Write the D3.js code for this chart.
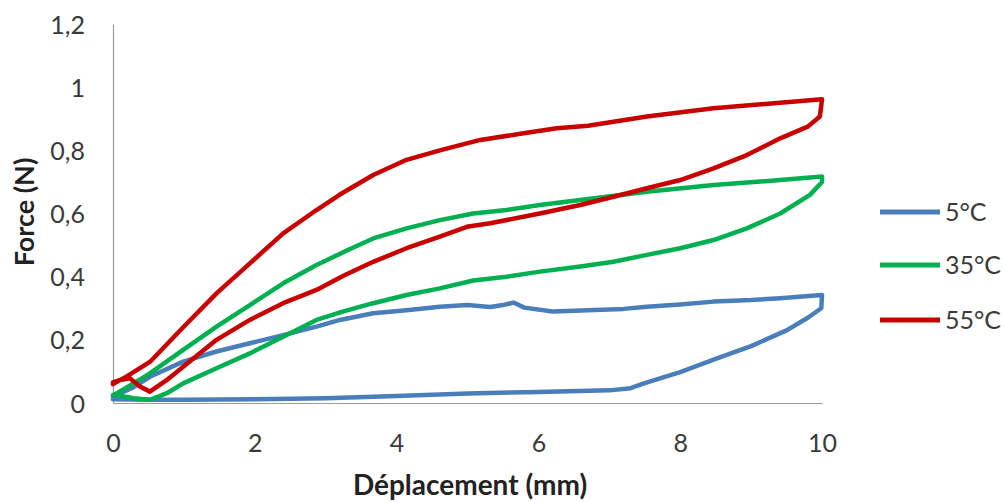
<!DOCTYPE html>
<html><head><meta charset="utf-8">
<script src="https://cdn.jsdelivr.net/npm/d3@7"></script>
<style>body{margin:0;background:#fff;} svg{display:block;font-family:Lato,"Open Sans",sans-serif;}</style>
</head><body><svg id="c" width="1006" height="502"></svg>
<script>
const seriesNames = ["5°C", "35°C", "55°C"];
const seriesColors = ["#4a7ebb", "#00b050", "#c80000"];
const xTicks = [0, 2, 4, 6, 8, 10];
const yTicks = [0, 0.2, 0.4, 0.6, 0.8, 1, 1.2];

// 5°C : loading (0 -> 10) then unloading (10 -> 0)
const disp5 = [0,0.29,0.52,0.99,1.46,1.93,2.4,2.87,3.2,3.67,4.14,4.61,5.0,5.32,5.5,5.65,5.8,6.2,6.7,7.2,7.53,8.0,8.47,9.0,9.41,10,
  9.99,9.8,9.5,9.0,8.5,8.0,7.5,7.3,7.0,6.0,5.0,4.0,3.0,2.0,1.0,0.5,0];
const force5 = [0.02,0.05,0.083,0.131,0.163,0.189,0.215,0.242,0.263,0.284,0.294,0.305,0.31,0.304,0.31,0.318,0.302,0.29,0.294,0.298,0.305,0.312,0.321,0.326,0.332,0.342,
  0.30,0.27,0.23,0.18,0.14,0.098,0.063,0.047,0.04,0.035,0.03,0.022,0.015,0.012,0.01,0.01,0.012];

// 35°C
const disp35 = [0,0.05,0.29,0.52,0.99,1.46,1.93,2.4,2.87,3.32,3.67,4.14,4.61,5.08,5.55,6.02,6.59,7.53,8.47,9.41,10,
  10,9.83,9.41,8.94,8.47,8.0,7.53,7.06,6.59,6.02,5.55,5.08,4.61,4.14,3.67,3.25,2.87,2.4,1.93,1.46,0.99,0.76,0.52,0.29,0.05];
const force35 = [0.025,0.03,0.062,0.094,0.168,0.242,0.31,0.379,0.437,0.485,0.521,0.553,0.579,0.60,0.611,0.627,0.643,0.669,0.69,0.706,0.717,
  0.70,0.659,0.60,0.553,0.516,0.49,0.469,0.447,0.432,0.416,0.40,0.388,0.363,0.342,0.316,0.29,0.263,0.21,0.157,0.11,0.062,0.031,0.01,0.015,0.025];

// 55°C
const disp55 = [0,0.2,0.52,0.99,1.46,1.93,2.4,2.87,3.2,3.67,4.14,4.61,5.18,5.79,6.26,6.7,7.53,8.47,9.41,10,
  9.97,9.8,9.41,8.94,8.47,8.0,7.53,7.06,6.59,6.02,5.32,4.99,4.61,4.14,3.67,3.25,2.87,2.4,1.93,1.46,0.99,0.76,0.52,0.38,0.24,0.1,0];
const force55 = [0.06,0.085,0.13,0.24,0.347,0.442,0.537,0.611,0.66,0.722,0.77,0.80,0.833,0.854,0.87,0.878,0.907,0.933,0.951,0.962,
  0.907,0.875,0.838,0.785,0.743,0.706,0.68,0.653,0.627,0.60,0.569,0.558,0.527,0.49,0.447,0.403,0.358,0.316,0.263,0.20,0.115,0.073,0.036,0.052,0.078,0.073,0.065];

const dispData = [disp5, disp35, disp55];
const forceData = [force5, force35, force55];

const svg = d3.select("#c");
const x = d3.scaleLinear().domain([0, 10]).range([113, 822]);
const y = d3.scaleLinear().domain([0, 1.2]).range([403, 24]);
const fmt = d => String(d).replace(".", ",");

// axes
const gx = svg.append("g").attr("transform", "translate(0,403)")
  .call(d3.axisBottom(x).tickValues(xTicks).tickSize(0).tickFormat(fmt));
const gy = svg.append("g").attr("transform", "translate(113,0)")
  .call(d3.axisLeft(y).tickValues(yTicks).tickSize(0).tickPadding(28).tickFormat(fmt));
[gx, gy].forEach(g => {
  g.select(".domain").attr("stroke", "#9a9a9a").attr("stroke-width", 1.2);
  g.selectAll("text").attr("font-size", 25).attr("fill", "#3a3a3a").attr("font-family", "Lato, 'Open Sans', sans-serif");
});
gy.selectAll("text").attr("dy", "0.36em");
gx.selectAll("text").attr("y", 40).attr("dy", "0.36em");

// lines
const line = d3.line().x(d => x(d[0])).y(d => y(d[1]));
seriesNames.forEach((n, i) => {
  const pts = dispData[i].map((v, j) => [v, forceData[i][j]]);
  svg.append("path").datum(pts).attr("d", line)
    .attr("fill", "none").attr("stroke", seriesColors[i])
    .attr("stroke-width", 4.5).attr("stroke-linejoin", "round").attr("stroke-linecap", "round");
});

// axis titles
svg.append("text").attr("x", 470).attr("y", 495).attr("text-anchor", "middle")
  .attr("font-size", 28).attr("font-weight", "bold").attr("fill", "#222").text("Déplacement (mm)");
svg.append("text").attr("transform", "translate(34,212) rotate(-90)").attr("text-anchor", "middle")
  .attr("font-size", 27).attr("font-weight", "bold").attr("fill", "#222").text("Force (N)");

// legend
const legY = [212, 265, 320];
seriesNames.forEach((n, i) => {
  svg.append("line").attr("x1", 880).attr("x2", 940).attr("y1", legY[i]).attr("y2", legY[i])
    .attr("stroke", seriesColors[i]).attr("stroke-width", 5);
  svg.append("text").attr("x", 945).attr("y", legY[i]).attr("dy", "0.36em")
    .attr("font-size", 25).attr("fill", "#3a3a3a").text(n);
});
</script></body></html>
